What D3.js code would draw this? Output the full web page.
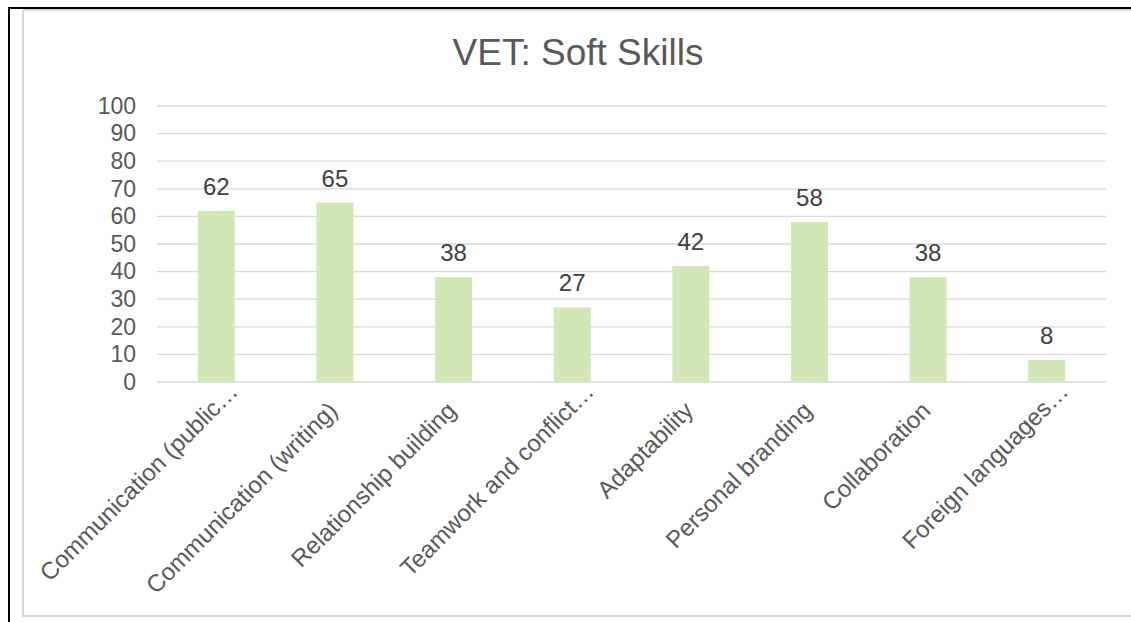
<!DOCTYPE html>
<html lang="en">

<head>
    <meta charset="UTF-8">
    <meta name="viewport" content="width=device-width, initial-scale=1.0">
    <title>VET: Soft Skills</title>

    <script src="https://d3js.org/d3.v7.min.js"></script>
    <style>
        body { margin: 0; background: #ffffff; }
    </style>
</head>

<body>
    <svg id="chart" width="1131" height="622"></svg>

    <script>
        // chart data
        const chartTitle = "VET: Soft Skills";
        const categories = ["Communication (public…", "Communication (writing)", "Relationship building",
            "Teamwork and conflict…", "Adaptability", "Personal branding", "Collaboration", "Foreign languages…"];
        const values = [62, 65, 38, 27, 42, 58, 38, 8];
        const yTicks = [0, 10, 20, 30, 40, 50, 60, 70, 80, 90, 100];

        const width = 1131;
        const height = 622;
        const margin = { top: 106, right: 25, bottom: 240, left: 157 };
        const fontFamily = "'Liberation Sans', Arial, sans-serif";

        const svg = d3.select("#chart")
            .attr("width", width)
            .attr("height", height);

        // outer frame: black page edge + light gray chart border
        svg.append("rect")
            .attr("x", 23)
            .attr("y", 10)
            .attr("width", width + 20)
            .attr("height", 606)
            .attr("fill", "#ffffff")
            .attr("stroke", "#d9d9d9")
            .attr("stroke-width", 2);
        svg.append("line")
            .attr("x1", 8).attr("x2", width)
            .attr("y1", 8).attr("y2", 8)
            .attr("stroke", "#000000")
            .attr("stroke-width", 2);
        svg.append("line")
            .attr("x1", 9).attr("x2", 9)
            .attr("y1", 7).attr("y2", height)
            .attr("stroke", "#000000")
            .attr("stroke-width", 2);

        const xScale = d3.scaleBand()
            .domain(categories)
            .range([margin.left, width - margin.right])
            .paddingInner(0.688)
            .paddingOuter(0.344);

        const yScale = d3.scaleLinear()
            .domain([0, 100])
            .range([height - margin.bottom, margin.top]);

        // gridlines
        svg.append("g")
            .attr("class", "grid")
            .selectAll("line")
            .data(yTicks)
            .enter().append("line")
            .attr("x1", margin.left)
            .attr("x2", width - margin.right)
            .attr("y1", d => yScale(d))
            .attr("y2", d => yScale(d))
            .attr("stroke", "#d9d9d9")
            .attr("stroke-width", 1.3);

        // y-axis labels
        const yAxis = svg.append("g")
            .attr("class", "y-axis")
            .attr("transform", `translate(${margin.left - 21},0)`)
            .call(d3.axisLeft(yScale).tickValues(yTicks).tickSize(0).tickPadding(0));
        yAxis.select(".domain").remove();
        yAxis.selectAll("text")
            .style("font-family", fontFamily)
            .style("font-size", "23px")
            .attr("fill", "#595959");

        // bars
        svg.append("g")
            .selectAll("rect")
            .data(values)
            .enter().append("rect")
            .attr("x", (d, i) => xScale(categories[i]))
            .attr("y", d => yScale(d))
            .attr("width", xScale.bandwidth())
            .attr("height", d => yScale(0) - yScale(d))
            .attr("fill", "#d1e7b6");

        // data labels
        svg.append("g")
            .selectAll("text")
            .data(values)
            .enter().append("text")
            .attr("x", (d, i) => xScale(categories[i]) + xScale.bandwidth() / 2)
            .attr("y", d => yScale(d) - 16)
            .attr("text-anchor", "middle")
            .style("font-family", fontFamily)
            .style("font-size", "24px")
            .attr("fill", "#404040")
            .text(d => d);

        // x-axis (rotated category labels; the cut-off ones sit a bit higher, like in excel)
        const xAxis = svg.append("g")
            .attr("class", "x-axis")
            .attr("transform", `translate(0,${yScale(0)})`)
            .call(d3.axisBottom(xScale).tickSize(0).tickPadding(0));
        xAxis.select(".domain").remove();
        xAxis.selectAll("text")
            .style("font-family", fontFamily)
            .style("font-size", "24px")
            .attr("fill", "#595959")
            .attr("text-anchor", "end")
            .attr("dy", 0)
            .attr("y", 0)
            .attr("transform", d => d.endsWith("…")
                ? "translate(23,11) rotate(-45)"
                : "translate(4,30) rotate(-45)");

        // title
        svg.append("text")
            .attr("x", 578)
            .attr("y", 65)
            .attr("text-anchor", "middle")
            .style("font-family", fontFamily)
            .style("font-size", "37px")
            .attr("fill", "#595959")
            .text(chartTitle);
    </script>
</body>

</html>
